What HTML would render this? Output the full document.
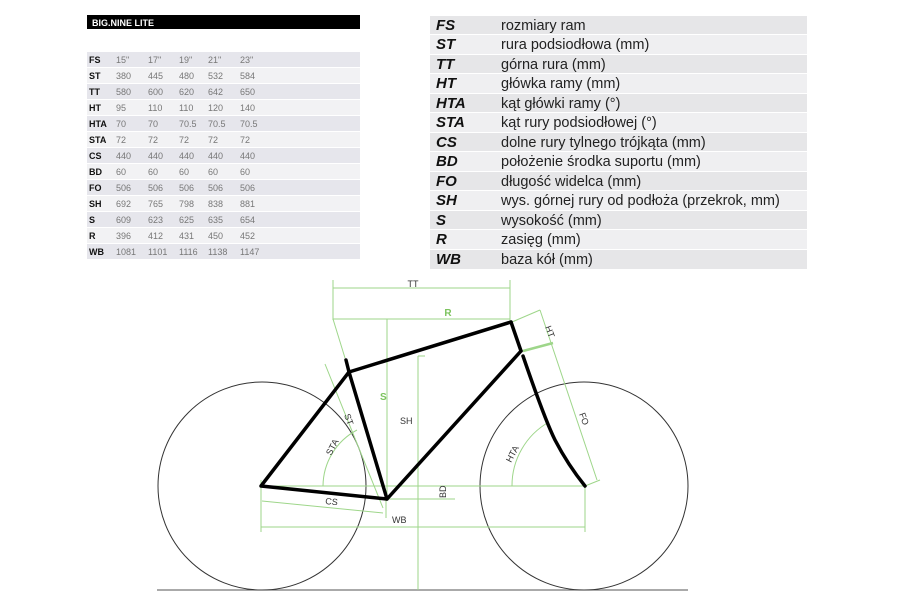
<!DOCTYPE html>
<html><head><meta charset="utf-8"><style>
html,body{margin:0;padding:0;background:#fff;width:900px;height:600px;overflow:hidden}
svg{display:block}
</style></head><body>
<svg width="900" height="600" viewBox="0 0 900 600" xmlns="http://www.w3.org/2000/svg">
<rect x="87" y="15" width="273" height="14" fill="#000"/>
<text x="92" y="26" font-family="Liberation Sans, sans-serif" font-size="9" fill="#fff" font-weight="bold">BIG.NINE LITE</text>
<g font-family="Liberation Sans, sans-serif" font-size="9" fill="#777">
<rect x="87" y="52" width="273" height="15" fill="#e6e6ec"/>
<rect x="87" y="68" width="273" height="15" fill="#f2f2f4"/>
<rect x="87" y="84" width="273" height="15" fill="#e6e6ec"/>
<rect x="87" y="100" width="273" height="15" fill="#f2f2f4"/>
<rect x="87" y="116" width="273" height="15" fill="#e6e6ec"/>
<rect x="87" y="132" width="273" height="15" fill="#f2f2f4"/>
<rect x="87" y="148" width="273" height="15" fill="#e6e6ec"/>
<rect x="87" y="164" width="273" height="15" fill="#f2f2f4"/>
<rect x="87" y="180" width="273" height="15" fill="#e6e6ec"/>
<rect x="87" y="196" width="273" height="15" fill="#f2f2f4"/>
<rect x="87" y="212" width="273" height="15" fill="#e6e6ec"/>
<rect x="87" y="228" width="273" height="15" fill="#f2f2f4"/>
<rect x="87" y="244" width="273" height="15" fill="#e6e6ec"/>
<g font-weight="bold" fill="#111">
<text x="89" y="63">FS</text><text x="89" y="79">ST</text><text x="89" y="95">TT</text><text x="89" y="111">HT</text><text x="89" y="127">HTA</text><text x="89" y="143">STA</text><text x="89" y="159">CS</text><text x="89" y="175">BD</text><text x="89" y="191">FO</text><text x="89" y="207">SH</text><text x="89" y="223">S</text><text x="89" y="239">R</text><text x="89" y="255">WB</text>
</g>
<g>
<text y="63"><tspan x="116">15"</tspan><tspan x="148">17"</tspan><tspan x="179">19"</tspan><tspan x="208">21"</tspan><tspan x="240">23"</tspan></text>
<text y="79"><tspan x="116">380</tspan><tspan x="148">445</tspan><tspan x="179">480</tspan><tspan x="208">532</tspan><tspan x="240">584</tspan></text>
<text y="95"><tspan x="116">580</tspan><tspan x="148">600</tspan><tspan x="179">620</tspan><tspan x="208">642</tspan><tspan x="240">650</tspan></text>
<text y="111"><tspan x="116">95</tspan><tspan x="148">110</tspan><tspan x="179">110</tspan><tspan x="208">120</tspan><tspan x="240">140</tspan></text>
<text y="127"><tspan x="116">70</tspan><tspan x="148">70</tspan><tspan x="179">70.5</tspan><tspan x="208">70.5</tspan><tspan x="240">70.5</tspan></text>
<text y="143"><tspan x="116">72</tspan><tspan x="148">72</tspan><tspan x="179">72</tspan><tspan x="208">72</tspan><tspan x="240">72</tspan></text>
<text y="159"><tspan x="116">440</tspan><tspan x="148">440</tspan><tspan x="179">440</tspan><tspan x="208">440</tspan><tspan x="240">440</tspan></text>
<text y="175"><tspan x="116">60</tspan><tspan x="148">60</tspan><tspan x="179">60</tspan><tspan x="208">60</tspan><tspan x="240">60</tspan></text>
<text y="191"><tspan x="116">506</tspan><tspan x="148">506</tspan><tspan x="179">506</tspan><tspan x="208">506</tspan><tspan x="240">506</tspan></text>
<text y="207"><tspan x="116">692</tspan><tspan x="148">765</tspan><tspan x="179">798</tspan><tspan x="208">838</tspan><tspan x="240">881</tspan></text>
<text y="223"><tspan x="116">609</tspan><tspan x="148">623</tspan><tspan x="179">625</tspan><tspan x="208">635</tspan><tspan x="240">654</tspan></text>
<text y="239"><tspan x="116">396</tspan><tspan x="148">412</tspan><tspan x="179">431</tspan><tspan x="208">450</tspan><tspan x="240">452</tspan></text>
<text y="255"><tspan x="116">1081</tspan><tspan x="148">1101</tspan><tspan x="179">1116</tspan><tspan x="208">1138</tspan><tspan x="240">1147</tspan></text>
</g>
</g>
<g font-family="Liberation Sans, sans-serif" font-size="14.5" fill="#222">
<rect x="430" y="16" width="377" height="18" fill="#e6e6e8"/>
<rect x="430" y="35" width="377" height="19" fill="#efeff1"/>
<rect x="430" y="55" width="377" height="18" fill="#e6e6e8"/>
<rect x="430" y="74" width="377" height="19" fill="#efeff1"/>
<rect x="430" y="94" width="377" height="18" fill="#e6e6e8"/>
<rect x="430" y="113" width="377" height="19" fill="#efeff1"/>
<rect x="430" y="133" width="377" height="18" fill="#e6e6e8"/>
<rect x="430" y="152" width="377" height="19" fill="#efeff1"/>
<rect x="430" y="172" width="377" height="18" fill="#e6e6e8"/>
<rect x="430" y="191" width="377" height="19" fill="#efeff1"/>
<rect x="430" y="211" width="377" height="18" fill="#e6e6e8"/>
<rect x="430" y="230" width="377" height="19" fill="#efeff1"/>
<rect x="430" y="250" width="377" height="19" fill="#e6e6e8"/>
<g font-weight="bold" font-style="italic" font-size="15" fill="#111">
<text x="436" y="30">FS</text><text x="436" y="49">ST</text><text x="436" y="69">TT</text><text x="436" y="88">HT</text><text x="436" y="108">HTA</text><text x="436" y="127">STA</text><text x="436" y="147">CS</text><text x="436" y="166">BD</text><text x="436" y="186">FO</text><text x="436" y="205">SH</text><text x="436" y="225">S</text><text x="436" y="244">R</text><text x="436" y="264">WB</text>
</g>
<text x="501" y="30">rozmiary ram</text>
<text x="501" y="49">rura podsiodłowa (mm)</text>
<text x="501" y="69">górna rura (mm)</text>
<text x="501" y="88">główka ramy (mm)</text>
<text x="501" y="108">kąt główki ramy (°)</text>
<text x="501" y="127">kąt rury podsiodłowej (°)</text>
<text x="501" y="147">dolne rury tylnego trójkąta (mm)</text>
<text x="501" y="166">położenie środka suportu (mm)</text>
<text x="501" y="186">długość widelca (mm)</text>
<text x="501" y="205">wys. górnej rury od podłoża (przekrok, mm)</text>
<text x="501" y="225">wysokość (mm)</text>
<text x="501" y="244">zasięg (mm)</text>
<text x="501" y="264">baza kół (mm)</text>
</g>
<line x1="157" y1="590" x2="688" y2="590" stroke="#555" stroke-width="1"/>
<circle cx="262" cy="486" r="104" fill="none" stroke="#333" stroke-width="1"/>
<circle cx="584" cy="486" r="104" fill="none" stroke="#333" stroke-width="1"/>
<g stroke="#9ed68a" stroke-width="1" fill="none">
<line x1="333" y1="288" x2="510" y2="288"/>
<line x1="333" y1="280" x2="333" y2="320"/>
<line x1="510" y1="280" x2="510" y2="321"/>
<line x1="333" y1="319" x2="510" y2="319"/>
<line x1="333" y1="319" x2="345" y2="358"/>
<line x1="387" y1="319" x2="387" y2="499"/>
<line x1="418" y1="356" x2="418" y2="590"/>
<line x1="418" y1="356" x2="425" y2="356"/>
<line x1="261" y1="486" x2="585" y2="486"/>
<line x1="387" y1="499" x2="455" y2="499"/>
<line x1="261" y1="527" x2="585" y2="527"/>
<line x1="261" y1="480" x2="261" y2="532"/>
<line x1="585" y1="486" x2="585" y2="532"/>
<line x1="262" y1="501" x2="383" y2="513"/>
<line x1="386" y1="500" x2="386" y2="518"/>
<path d="M323 486 A64 64 0 0 1 357 430"/>
<path d="M512 486 A73 73 0 0 1 549 422"/>
<line x1="325" y1="364" x2="383" y2="508"/>
<line x1="512" y1="322" x2="540" y2="310"/>
<line x1="540" y1="310" x2="597" y2="480"/>
<line x1="585" y1="486" x2="600" y2="480"/>
<line x1="523" y1="351" x2="553" y2="343" stroke-width="2.5"/>
</g>
<g stroke="#000" stroke-width="3.5" fill="none" stroke-linejoin="round" stroke-linecap="round">
<path d="M261 486 L349 372 L387 499 Z"/>
<line x1="349" y1="372" x2="511" y2="322"/>
<line x1="346" y1="360" x2="349" y2="372"/>
<line x1="511" y1="322" x2="521" y2="351"/>
<line x1="387" y1="499" x2="521" y2="351"/>
<path d="M523 356 Q545 420 555 440 Q568 465 585 486"/>
</g>
<g font-family="Liberation Sans, sans-serif" font-size="9" fill="#333">
<text x="413" y="287" text-anchor="middle">TT</text>
<text x="448" y="316" text-anchor="middle" fill="#7cc35e" font-size="10" font-weight="bold">R</text>
<text x="380" y="400" fill="#7cc35e" font-size="10" font-weight="bold">S</text>
<text x="400" y="424">SH</text>
<text x="392" y="523">WB</text>
<text transform="translate(325,504) rotate(6)">CS</text>
<text transform="translate(344,415) rotate(70)">ST</text>
<text transform="translate(331,456) rotate(-62)">STA</text>
<text transform="translate(511,463) rotate(-62)">HTA</text>
<text transform="translate(545,327) rotate(70)">HT</text>
<text transform="translate(579,414) rotate(70)">FO</text>
<text transform="translate(446,498) rotate(-90)">BD</text>
</g>
</svg>
</body></html>
